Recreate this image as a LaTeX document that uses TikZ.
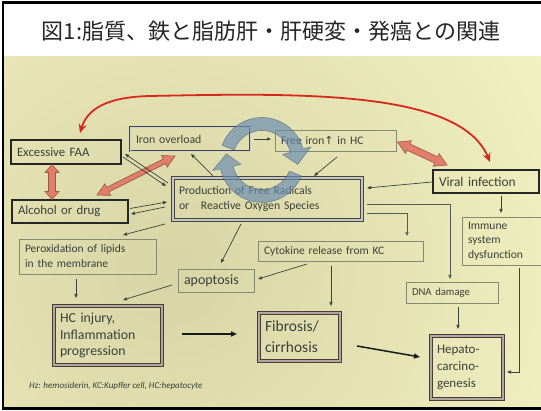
\documentclass[tikz,border=0pt]{standalone}
\usepackage{fontspec}
\setmainfont{Carlito}
\newfontfamily\cjkfont{Noto Sans CJK JP}
\newfontfamily\symfont{DejaVu Sans}
\usetikzlibrary{calc,arrows.meta}

\definecolor{txt}{RGB}{62,62,58}
\definecolor{thinbd}{RGB}{135,135,115}
\definecolor{bgl}{RGB}{255,255,208}
\definecolor{bgd}{RGB}{215,212,165}
\definecolor{redc}{RGB}{215,40,30}
\definecolor{salmon}{RGB}{226,125,105}
\definecolor{salmonbd}{RGB}{150,90,75}
\definecolor{cycc}{RGB}{105,140,178}
\definecolor{cycbd}{RGB}{70,95,125}
\definecolor{brownbd}{RGB}{75,60,50}
\definecolor{prodbd}{RGB}{70,70,65}

\newcommand\fz[2]{\fontsize{#1}{#2}\selectfont}
\newcommand\fatarrow[5]{%
  \path ($(#1)!#3!(#2)$) coordinate (fa-p) ($(#2)!#3!(#1)$) coordinate (fa-q);
  \draw[fatarr] (#1) -- ($(fa-p)!#4!90:(#2)$) -- ($(fa-p)!#5!90:(#2)$)
    -- ($(fa-q)!#5!-90:(#1)$) -- ($(fa-q)!#4!-90:(#1)$) -- (#2)
    -- ($(fa-q)!#4!90:(#1)$) -- ($(fa-q)!#5!90:(#1)$)
    -- ($(fa-p)!#5!-90:(#2)$) -- ($(fa-p)!#4!-90:(#2)$) -- cycle;}
% curved block arrow around (cyc): #1 start angle, #2 end angle of band, #3 tip angle
\newcommand\cycarrow[3]{%
  \filldraw[cycarr] ($(cyc)+(#1:42.5)$) arc[start angle=#1, end angle=#2, radius=42.5]
    -- ($(cyc)+(#2:50.5)$) -- ($(cyc)+(#3:36)$) -- ($(cyc)+(#2:21.5)$)
    -- ($(cyc)+(#2:29.5)$) arc[start angle=#2, end angle=#1, radius=29.5] -- cycle;}

\tikzset{
  box/.style={rectangle, inner xsep=6pt, inner ysep=0pt, outer sep=0pt, text=txt, align=left},
  blackbox/.style={box, draw=black!85, line width=1.6pt},
  thinbox/.style={box, draw=thinbd, line width=0.9pt},
  ironbox/.style={box, draw=gray!55!black, line width=0.9pt, double=gray!35, double distance=0.8pt},
  prodbox/.style={box, draw=prodbd, line width=1.2pt, double=gray!45, double distance=1.5pt},
  dblbox/.style={box, draw=brownbd, line width=1.3pt, double=brownbd!45!white, double distance=1.6pt},
  arr/.style={draw=black!75, line width=0.7pt, -{Triangle[length=4pt,width=3.2pt]}},
  garr/.style={draw=gray!70!black, line width=0.7pt, -{Triangle[length=4pt,width=3.2pt]}},
  tarr/.style={draw=black!90, line width=1.5pt, -{Triangle[length=6pt,width=5pt]}},
  redarr/.style={draw=redc, line width=1.8pt, {Stealth[length=9pt,width=8pt]}-{Stealth[length=9pt,width=8pt]}},
  fatarr/.style={draw=salmonbd, line width=0.6pt, fill=salmon},
  cycarr/.style={fill=cycc, fill opacity=0.68, draw=cycbd, draw opacity=0.6, line width=0.6pt, line join=round}
}

\begin{document}
\begin{tikzpicture}[x=1pt,y=-1pt]
\useasboundingbox (0,0) rectangle (541,411);
\clip (0,0) rectangle (541,411);
\fill[white] (0,0) rectangle (541,411);
\begin{scope}
  \clip (3,57) rectangle (541,409);
  \shade[inner color=bgd, outer color=bgl] (170,270) circle[radius=640];
\end{scope}
\draw[line width=2.5pt, black] (3,2.5) rectangle (548,408.5);

\node[font=\cjkfont\fz{22}{26}, text=black!85] (title) at (271,31) {図1:脂質、鉄と脂肪肝・肝硬変・発癌との関連};

% nodes
\node[blackbox, text width=98pt, minimum height=24pt, font=\fz{12.8}{16}] (faa) at (66,152) {Excessive FAA};
\node[blackbox, text width=104pt, minimum height=23pt, font=\fz{12.8}{16}] (alc) at (70,211.5) {Alcohol or drug};
\node[ironbox, text width=108pt, minimum height=24pt, font=\fz{11.8}{14}] (iron) at (190,139) {Iron overload};
\node[thinbox, text width=109pt, minimum height=21pt, font=\fz{11.6}{14}] (free) at (335.5,140.5) {Free iron{\symfont\fz{11}{14}↑} in HC};
\node[prodbox, text width=177pt, minimum height=42pt, font=\fz{11.7}{15.5}] (prod) at (267.5,199) {Production of Free Radicals\\or\quad Reactive Oxygen Species};
\node[blackbox, text width=94pt, minimum height=23pt, font=\fz{13.4}{16}] (viral) at (486,181.5) {Viral infection};
\node[thinbox, text width=74pt, minimum height=48pt, font=\fz{11.6}{14.5}] (immune) at (505,241) {Immune\\system\\dysfunction};
\node[thinbox, text width=125pt, minimum height=35pt, font=\fz{11.5}{15}] (perox) at (87.5,256.5) {Peroxidation of lipids\\in the membrane};
\node[thinbox, text width=153pt, minimum height=20pt, font=\fz{11.5}{14}] (cyto) at (340.5,251) {Cytokine release from KC};
\node[thinbox, text width=64pt, minimum height=23pt, font=\fz{14}{16}] (apop) at (216,280.5) {apoptosis};
\node[dblbox, text width=96pt, minimum height=59pt, font=\fz{13.8}{16.5}] (hc) at (108,335.5) {HC injury,\\Inflammation\\progression};
\node[dblbox, text width=69pt, minimum height=48pt, font=\fz{15.5}{21}] (fib) at (299.5,337) {Fibrosis/\\cirrhosis};
\node[thinbox, text width=80pt, minimum height=21pt, font=\fz{10.7}{14}] (dna) at (452,292.5) {DNA damage};
\node[dblbox, text width=60pt, minimum height=63pt, font=\fz{13}{17}] (hep) at (467,367.5) {Hepato-\\carcino-\\genesis};
\node[anchor=west, inner sep=0pt, text=txt, font=\itshape\fz{9}{10}] (note) at (29,386) {Hz: hemosiderin, KC:Kupffer cell, HC:hepatocyte};

% red curved double arrow
\draw[redarr] ($(faa.north)+(14,-7)$) .. controls (87,110) and (105,97) .. (150,96)
   .. controls (300,93) and (460,90) .. ($(viral.north)+(4,-8)$);

% fat salmon double arrows
\coordinate (f1a) at ($(faa.south)+(-14,0.5)$);
\coordinate (f1b) at ($(alc.north)+(-18,-0.5)$);
\fatarrow{f1a}{f1b}{8pt}{7pt}{3.5pt}
\coordinate (f2a) at ($(iron.south west)+(45,5)$);
\coordinate (f2b) at ($(alc.north east)+(-31,-5)$);
\fatarrow{f2a}{f2b}{12pt}{6.5pt}{2.5pt}
\coordinate (f3a) at ($(free.east)+(1.5,1.5)$);
\coordinate (f3b) at ($(viral.north west)+(14,-5)$);
\fatarrow{f3a}{f3b}{12pt}{7pt}{3.5pt}

% thin arrows
\draw[arr] ($(faa.east)+(2,5)$) -- ($(prod.west)+(-7,-13)$);
\draw[arr] ($(prod.west)+(-5,-16)$) -- ($(faa.east)+(4,2)$);
\draw[arr] ($(alc.east)+(2,-3)$) -- ($(prod.west)+(-6,3)$);
\draw[arr] ($(prod.west)+(-8,8)$) -- ($(alc.east)+(3,2.5)$);
\draw[arr] ($(prod.south west)+(-8,4)$) -- ($(perox.north east)+(-33,-4)$);
\draw[arr] ($(prod.north west)+(40,-2)$) -- ($(iron.south)+(1,3)$);
\draw[arr] ($(iron.east)+(4,0)$) -- ($(free.west)+(-4,-1.5)$);
\draw[arr] ($(free.south)+(1.5,6)$) -- ($(prod.north)+(46.5,-2)$);
\draw[arr] ($(viral.west)+(-1,0.5)$) -- ($(prod.east)+(5,-11)$);
\draw[garr] ($(prod.east)+(5,5)$) -| ($(dna.north)+(-2,-3)$);
\draw[garr] ($(prod.east)+(5,14)$) -| ($(cyto.north east)+(-16,-5)$);
\draw[arr] ($(viral.south)+(15,3)$) -- ($(immune.north)+(-4,-4)$);
\draw[arr] ($(immune.south)+(14,3)$) |- ($(hep.east)+(4,4.5)$);
\draw[arr] ($(dna.south)+(6,4)$) -- ($(hep.north)+(-9,-7)$);
\draw[arr] ($(cyto.south)+(-9.5,5)$) -- ($(fib.north)+(31.5,-7)$);
\draw[arr] ($(cyto.south)+(-33.5,3)$) -- ($(apop.east)+(4,-1.5)$);
\draw[arr] ($(prod.south)+(-26.5,4)$) -- ($(apop.north)+(5,-6)$);
\draw[arr] ($(apop.west)+(-6,4.5)$) -- ($(hc.north east)+(-39,-6)$);
\draw[arr] ($(perox.south)+(-11.5,5)$) -- ($(hc.north)+(-32,-8)$);
\draw[tarr] ($(hc.east)+(20,-1.5)$) -- ($(fib.west)+(-22,-3)$);
\draw[tarr] ($(fib.east)+(17,9)$) -- ($(hep.west)+(-11,-10.5)$);

% circular arrows
\coordinate (cyc) at (262,160);
\cycarrow{200}{345}{367}
\cycarrow{22}{168}{190}
\end{tikzpicture}
\end{document}
